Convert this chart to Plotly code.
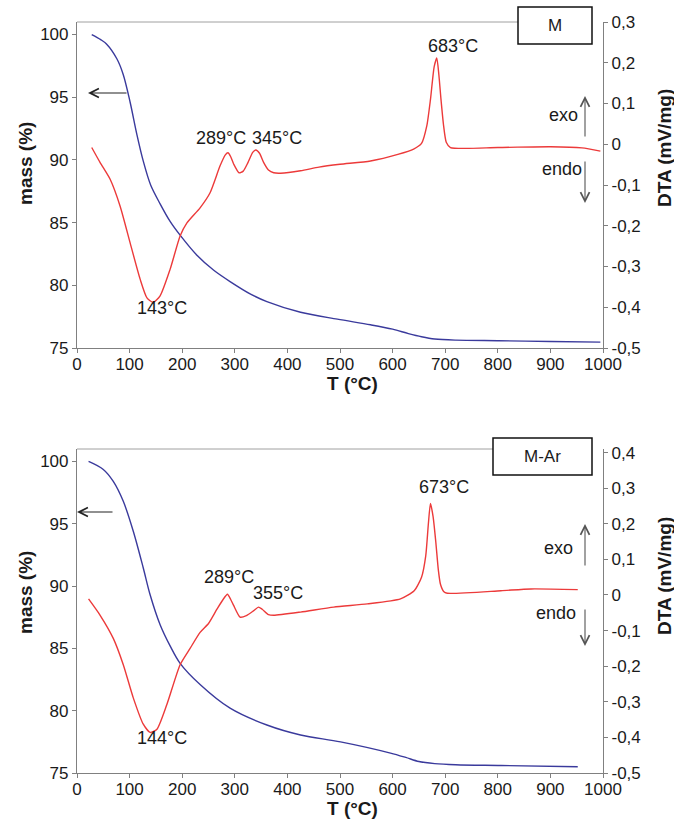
import plotly.graph_objects as go

W, H = 674, 827

# ---------------- data: panel M ----------------
tga_M_T = [28, 45, 56, 76, 88, 101, 114, 126, 140, 158, 177, 196, 228, 260, 291, 330, 361, 425, 495, 558, 600, 630, 655, 680, 720, 800, 900, 995]
tga_M = [100, 99.6, 99.25, 98.05, 96.8, 94.6, 92.0, 89.9, 88.0, 86.5, 85.1, 84.0, 82.4, 81.2, 80.3, 79.3, 78.7, 77.85, 77.3, 76.85, 76.5, 76.15, 75.9, 75.72, 75.63, 75.58, 75.52, 75.47]

dta_M_T = [28, 44, 63, 82, 101, 120, 133, 145, 158, 177, 196, 209, 234, 253, 272, 282, 287, 292, 298, 308, 316, 325, 334, 340, 347, 355, 364, 374, 387, 425, 460, 500, 558, 610, 640, 655, 665, 672, 679, 684, 688, 692, 697, 702, 710, 800, 900, 960, 995]
dta_M = [-0.008, -0.045, -0.086, -0.152, -0.242, -0.331, -0.377, -0.388, -0.372, -0.307, -0.225, -0.193, -0.156, -0.119, -0.053, -0.026, -0.021, -0.03, -0.049, -0.07, -0.066, -0.045, -0.02, -0.014, -0.022, -0.045, -0.063, -0.07, -0.071, -0.065, -0.056, -0.049, -0.041, -0.025, -0.012, 0.002, 0.045, 0.11, 0.19, 0.212, 0.17, 0.11, 0.045, 0.005, -0.008, -0.008, -0.006, -0.009, -0.017]

# ---------------- data: panel M-Ar ----------------
tga_A_T = [22, 50, 69, 88, 107, 126, 139, 158, 177, 196, 234, 291, 361, 425, 501, 596, 625, 650, 680, 720, 806, 952]
tga_A = [100, 99.36, 98.4, 96.8, 94.4, 91.45, 89.3, 86.9, 85.2, 83.8, 82.1, 80.2, 78.85, 78.05, 77.5, 76.6, 76.25, 75.92, 75.75, 75.66, 75.6, 75.5]

dta_A_T = [22, 44, 69, 88, 107, 126, 139, 152, 171, 196, 215, 234, 250, 266, 278, 286, 292, 298, 310, 322, 336, 345, 352, 364, 374, 425, 488, 552, 615, 641, 655, 663, 668, 672, 677, 682, 687, 691, 697, 704, 806, 863, 952]
dta_A = [-0.011, -0.057, -0.122, -0.196, -0.289, -0.363, -0.386, -0.377, -0.307, -0.196, -0.15, -0.105, -0.08, -0.04, -0.012, 0.002, -0.012, -0.03, -0.062, -0.058, -0.044, -0.034, -0.04, -0.055, -0.057, -0.048, -0.034, -0.025, -0.011, 0.012, 0.05, 0.11, 0.2, 0.257, 0.22, 0.151, 0.07, 0.03, 0.01, 0.005, 0.012, 0.017, 0.015]

x_ticks = [0, 100, 200, 300, 400, 500, 600, 700, 800, 900, 1000]
mass_ticks = [75, 80, 85, 90, 95, 100]
dta_ticks_M = [-0.5, -0.4, -0.3, -0.2, -0.1, 0, 0.1, 0.2, 0.3]
dta_ticks_A = [-0.5, -0.4, -0.3, -0.2, -0.1, 0, 0.1, 0.2, 0.3, 0.4]


def fmt(v):
    s = ("%.1f" % v).replace(".", ",")
    return "0" if abs(v) < 1e-9 else s


def PX(x):
    return x / W


def PY(y):
    return 1 - y / H


BLUE = "#3a3a9c"
RED = "#ec3a3a"
FONT = "Liberation Sans, Arial, sans-serif"

fig = go.Figure()
fig.add_trace(go.Scatter(x=tga_M_T, y=tga_M, mode="lines", line=dict(color=BLUE, width=1.4, shape="spline", smoothing=0.9), xaxis="x", yaxis="y"))
fig.add_trace(go.Scatter(x=dta_M_T, y=dta_M, mode="lines", line=dict(color=RED, width=1.4, shape="spline", smoothing=0.6), xaxis="x", yaxis="y2"))
fig.add_trace(go.Scatter(x=tga_A_T, y=tga_A, mode="lines", line=dict(color=BLUE, width=1.4, shape="spline", smoothing=0.9), xaxis="x2", yaxis="y3"))
fig.add_trace(go.Scatter(x=dta_A_T, y=dta_A, mode="lines", line=dict(color=RED, width=1.4, shape="spline", smoothing=0.6), xaxis="x2", yaxis="y4"))

xdom = [PX(77), PX(603)]
top_dom = [PY(348), PY(22)]
bot_dom = [PY(773), PY(449)]

axcommon = dict(showgrid=False, zeroline=False, showline=True, linecolor="#808080", linewidth=1.2,
                ticks="outside", ticklen=4, tickcolor="#808080", tickwidth=1.2, automargin=False,
                tickfont=dict(family=FONT, size=17, color="#1a1a1a"))

fig.update_layout(
    template="none",
    width=W, height=H, autosize=False,
    margin=dict(l=0, r=0, t=0, b=0, pad=0),
    paper_bgcolor="white", plot_bgcolor="white",
    showlegend=False,
    xaxis=dict(domain=xdom, anchor="y", range=[0, 1000], tickvals=x_ticks, ticklabelstandoff=-4, **axcommon),
    yaxis=dict(domain=top_dom, anchor="x", range=[75, 101], tickvals=mass_ticks, **axcommon),
    yaxis2=dict(overlaying="y", side="right", anchor="x", range=[-0.5, 0.3],
                tickvals=dta_ticks_M, ticktext=[fmt(v) for v in dta_ticks_M], **axcommon),
    xaxis2=dict(domain=xdom, anchor="y3", range=[0, 1000], tickvals=x_ticks, ticklabelstandoff=-4, **axcommon),
    yaxis3=dict(domain=bot_dom, anchor="x2", range=[75, 101], tickvals=mass_ticks, **axcommon),
    yaxis4=dict(overlaying="y3", side="right", anchor="x2", range=[-0.5, 0.41],
                tickvals=dta_ticks_A, ticktext=[fmt(v) for v in dta_ticks_A], **axcommon),
)

shapes = []
annotations = []


def text(x, y, s, size=18, bold=False, angle=0):
    annotations.append(dict(xref="paper", yref="paper", x=PX(x), y=PY(y), text=("<b>%s</b>" % s) if bold else s,
                            showarrow=False, xanchor="center", yanchor="middle", textangle=angle,
                            font=dict(family=FONT, size=size, color="#1a1a1a")))


def arrow(x_tip, y_tip, x_tail, y_tail, color="#333333"):
    annotations.append(dict(xref="paper", yref="paper", x=PX(x_tip), y=PY(y_tip),
                            axref="pixel", ayref="pixel", ax=x_tail - x_tip, ay=y_tail - y_tip,
                            text="", showarrow=True, arrowhead=5, arrowsize=1.6, arrowwidth=1.1,
                            arrowcolor=color))


for (ytop, box, label, ybox) in [(22, (518, 592), "M", (7, 44)), (449, (493, 592), "M-Ar", (438, 475))]:
    shapes.append(dict(type="line", xref="paper", yref="paper", x0=PX(77), x1=PX(box[0]), y0=PY(ytop), y1=PY(ytop),
                       line=dict(color="#a0a0a0", width=1)))
    shapes.append(dict(type="rect", xref="paper", yref="paper", x0=PX(box[0]), x1=PX(box[1]), y0=PY(ybox[1]), y1=PY(ybox[0]),
                       line=dict(color="#111111", width=1.5), fillcolor="white"))
    text((box[0] + box[1]) / 2, (ybox[0] + ybox[1]) / 2, label, size=17)

# panel M labels
text(221, 138, "289°C")
text(277, 138, "345°C")
text(162, 308, "143°C")
text(453, 46, "683°C")
text(563, 115, "exo")
text(562, 169, "endo")
arrow(88, 93, 128, 93, "#222222")
arrow(585, 96, 585, 138, "#555555")
arrow(585, 203, 585, 160, "#555555")

# panel M-Ar labels
text(229, 577, "289°C")
text(278, 593, "355°C")
text(162, 738, "144°C")
text(444, 487, "673°C")
text(558, 548, "exo")
text(556, 613, "endo")
arrow(77, 512, 114, 512, "#222222")
arrow(585, 524, 585, 567, "#555555")
arrow(585, 646, 585, 608, "#555555")

# axis titles
for yc, yd, yt in [(163, 148, 383), (592, 576, 808)]:
    text(25, yc, "mass (%)", size=19, bold=True, angle=-90)
    text(664, yd, "DTA (mV/mg)", size=19, bold=True, angle=-90)
    text(352, yt, "T (°C)", size=19, bold=True)

fig.update_layout(shapes=shapes, annotations=annotations)
fig.write_html("out.html")
